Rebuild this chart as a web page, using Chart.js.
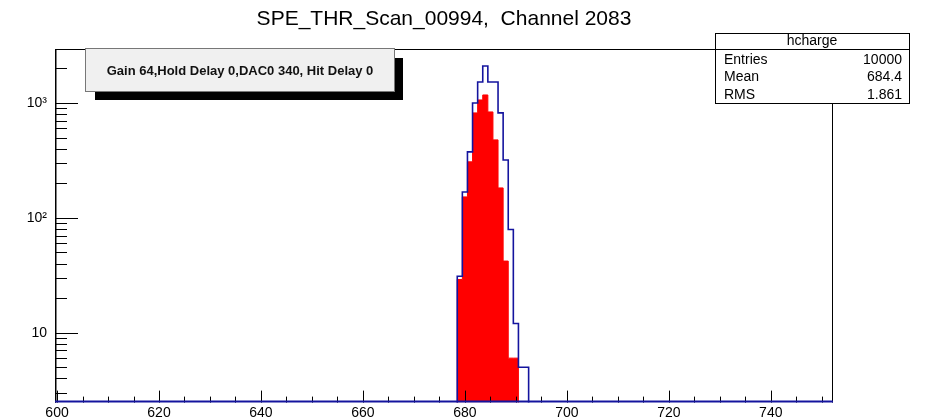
<!DOCTYPE html>
<html>
<head>
<meta charset="utf-8">
<script src="https://cdn.jsdelivr.net/npm/chart.js@4.4.0/dist/chart.umd.min.js"></script>
<style>
  html, body { margin: 0; padding: 0; background: #fff; }
</style>
</head>
<body>
<canvas id="myChart" width="930" height="419"></canvas>
<script>
// histogram bins (1 unit wide, centred on integers), low edges
const binLow = [678.5, 679.5, 680.5, 681.5, 682.5, 683.5, 684.5, 685.5, 686.5, 687.5, 688.5, 689.5, 690.5, 691.5];
const hchargeCounts = [6, 31, 168, 375, 1000, 1523, 2098, 1523, 1523, 819, 319, 79, 12, 5];
const selectedCounts = [5, 29, 152, 307, 819, 1062, 1174, 835, 477, 182, 42, 6];

const xRange = [599.6, 752.2];
const xTicks = [600, 620, 640, 660, 680, 700, 720, 740];
const yTicks = [10, 100, 1000];
const yTickLabels = ['10', '10²', '10³'];

const titleText = 'SPE_THR_Scan_00994,  Channel 2083';
const paveText = 'Gain 64,Hold Delay 0,DAC0 340, Hit Delay 0';
const statsName = 'hcharge';
const statsLabels = ['Entries', 'Mean', 'RMS'];
const statsValues = ['10000', '684.4', '1.861'];

const FONT = '"Liberation Sans", Arial, Helvetica, sans-serif';
const BLUE = '#14149e';

// outline of a histogram as step points, dropping to below the axis at both ends
function toSteps(counts) {
    const pts = [{ x: binLow[0], y: 1 }];
    counts.forEach((c, i) => pts.push({ x: binLow[i], y: c }));
    const end = binLow[counts.length - 1] + 1;
    pts.push({ x: end, y: counts[counts.length - 1] });
    pts.push({ x: end, y: 1 });
    return pts;
}

const rootFrame = {
    id: 'rootFrame',
    afterDatasetsDraw(chart) {
        const { ctx, chartArea: a, scales: { x, y } } = chart;
        ctx.save();

        // frame
        ctx.strokeStyle = '#000';
        ctx.lineWidth = 1;
        ctx.beginPath();
        ctx.moveTo(a.left + 0.5, a.bottom);
        ctx.lineTo(a.left + 0.5, a.top + 0.5);
        ctx.lineTo(a.right - 0.5, a.top + 0.5);
        ctx.lineTo(a.right - 0.5, a.bottom);
        ctx.stroke();
        ctx.lineWidth = 1.5;
        ctx.beginPath();
        ctx.moveTo(a.left + 0.75, a.bottom);
        ctx.lineTo(a.left + 0.75, a.top);
        ctx.stroke();

        // y ticks, inside the frame
        ctx.lineWidth = 1;
        for (let d = 1; d <= 1000; d *= 10) {
            for (let m = 1; m <= 9; m++) {
                const v = d * m;
                if (v < y.min || v > y.max) continue;
                const py = Math.round(y.getPixelForValue(v)) + 0.5;
                const len = m === 1 ? 23 : 12;
                ctx.beginPath();
                ctx.moveTo(a.left, py);
                ctx.lineTo(a.left + len, py);
                ctx.stroke();
            }
        }
        // x ticks
        for (let v = 600; v <= 750; v += 5) {
            const px = Math.round(x.getPixelForValue(v)) + 0.5;
            const len = v % 20 === 0 ? 12 : 6;
            ctx.beginPath();
            ctx.moveTo(px, a.bottom);
            ctx.lineTo(px, a.bottom - len);
            ctx.stroke();
        }

        // empty bins lie on the axis
        ctx.strokeStyle = BLUE;
        ctx.lineWidth = 2;
        ctx.beginPath();
        ctx.moveTo(a.left, a.bottom - 1);
        ctx.lineTo(a.right, a.bottom - 1);
        ctx.stroke();

        // title
        ctx.fillStyle = '#000';
        ctx.font = '21px ' + FONT;
        ctx.textAlign = 'center';
        ctx.textBaseline = 'middle';
        ctx.fillText(titleText, (a.left + a.right) / 2, 19);

        // label pave with shadow
        ctx.fillStyle = '#000';
        ctx.fillRect(95, 58, 308, 42);
        ctx.fillStyle = '#f0f0f0';
        ctx.fillRect(85, 48, 310, 44);
        ctx.strokeStyle = '#777';
        ctx.lineWidth = 1;
        ctx.strokeRect(85.5, 48.5, 309, 43);
        ctx.fillStyle = '#111';
        ctx.font = 'bold 13px ' + FONT;
        ctx.fillText(paveText, 240, 71);

        // stats box
        ctx.fillStyle = '#fff';
        ctx.fillRect(715, 33, 195, 71);
        ctx.strokeStyle = '#000';
        ctx.strokeRect(715.5, 33.5, 194, 70);
        ctx.beginPath();
        ctx.moveTo(715, 49.5);
        ctx.lineTo(910, 49.5);
        ctx.stroke();
        ctx.fillStyle = '#000';
        ctx.font = '14px ' + FONT;
        ctx.fillText(statsName, 812, 41);
        statsLabels.forEach((lab, i) => {
            const ty = 60 + i * 17.5;
            ctx.textAlign = 'left';
            ctx.fillText(lab, 724, ty);
            ctx.textAlign = 'right';
            ctx.fillText(statsValues[i], 902, ty);
        });

        ctx.restore();
    }
};

Chart.defaults.font.family = FONT;
Chart.defaults.color = '#000';

const ctx = document.getElementById('myChart').getContext('2d');
const chart = new Chart(ctx, {
    type: 'line',
    data: {
        datasets: [
            {
                data: toSteps(hchargeCounts),
                stepped: 'after',
                borderColor: BLUE,
                borderWidth: 1.6,
                pointRadius: 0,
                fill: false
            },
            {
                data: toSteps(selectedCounts),
                stepped: 'after',
                borderColor: '#ff0000',
                borderWidth: 1,
                backgroundColor: '#ff0000',
                pointRadius: 0,
                fill: 'start'
            }
        ]
    },
    options: {
        responsive: false,
        animation: false,
        devicePixelRatio: 1,
        layout: { padding: { left: 0, top: 49, right: 97, bottom: 0 } },
        plugins: { legend: { display: false }, tooltip: { enabled: false } },
        scales: {
            x: {
                type: 'linear',
                min: xRange[0],
                max: xRange[1],
                grid: { display: false, drawTicks: false },
                border: { display: false },
                afterBuildTicks: (s) => { s.ticks = xTicks.map(v => ({ value: v })); },
                afterFit: (s) => { s.height = 16; },
                ticks: { autoSkip: false, maxRotation: 0, padding: 2, font: { size: 14 } }
            },
            y: {
                type: 'logarithmic',
                min: 2.46,
                max: 2950,
                grid: { display: false, drawTicks: false },
                border: { display: false },
                afterBuildTicks: (s) => { s.ticks = yTicks.map(v => ({ value: v })); },
                afterFit: (s) => { s.width = 55; },
                ticks: {
                    padding: 8,
                    font: { size: 14 },
                    callback: (v) => yTickLabels[yTicks.indexOf(v)]
                }
            }
        }
    },
    plugins: [rootFrame]
});
</script>
</body>
</html>
